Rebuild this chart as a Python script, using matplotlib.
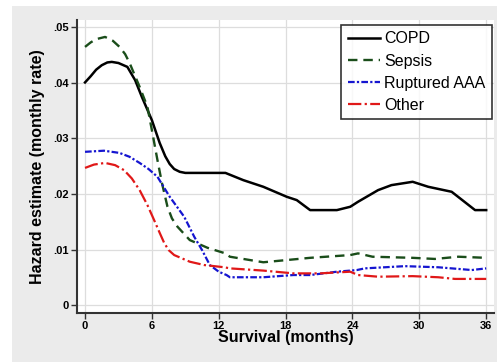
import matplotlib
matplotlib.use("Agg")
import matplotlib.pyplot as plt
from matplotlib.patches import Rectangle

# Data (months, monthly hazard rate)
copd_t = [0, 0.5, 1.0, 1.5, 2.0, 2.4, 3.0, 3.8, 4.5, 5.1, 6.0, 6.7, 7.2, 7.6, 8.0, 8.5, 9.0, 12.6, 14.2, 16.0, 18.1, 19.0, 20.2, 22.6, 23.8, 24.5, 26.3, 27.5, 29.4, 30.8, 32.9, 35.0, 36.0]
copd_v = [0.0401, 0.0412, 0.0424, 0.0432, 0.0437, 0.0438, 0.0436, 0.0429, 0.0405, 0.0375, 0.0333, 0.0292, 0.0268, 0.0254, 0.0245, 0.0240, 0.0238, 0.0238, 0.0225, 0.0213, 0.0195, 0.0189, 0.0171, 0.0171, 0.0177, 0.0186, 0.0207, 0.0216, 0.0222, 0.0213, 0.0204, 0.0171, 0.0171]

sepsis_t = [0, 0.5, 1.0, 1.8, 2.5, 3.1, 3.6, 4.0, 4.9, 5.6, 6.0, 6.5, 6.9, 7.4, 7.8, 8.3, 9.4, 11.0, 12.6, 13.0, 16.0, 18.1, 20.2, 23.8, 24.5, 25.8, 29.4, 31.4, 33.5, 36.0]
sepsis_v = [0.0465, 0.0473, 0.0479, 0.0483, 0.0476, 0.0465, 0.0452, 0.0436, 0.0393, 0.0357, 0.0315, 0.0261, 0.0220, 0.0177, 0.0156, 0.0141, 0.0117, 0.0103, 0.0093, 0.0087, 0.0077, 0.0081, 0.0085, 0.0090, 0.0093, 0.0087, 0.0085, 0.0083, 0.0087, 0.0085]

aaa_t = [0, 1.7, 3.1, 4.0, 4.9, 5.7, 6.5, 7.6, 8.9, 9.8, 10.5, 11.2, 12.0, 12.7, 13.0, 16.0, 18.7, 20.2, 22.6, 24.4, 25.1, 28.7, 31.7, 34.7, 36.0]
aaa_v = [0.0276, 0.0278, 0.0274, 0.0267, 0.0256, 0.0245, 0.0231, 0.0195, 0.0159, 0.0123, 0.0099, 0.0072, 0.0060, 0.0054, 0.0050, 0.0050, 0.0054, 0.0054, 0.0060, 0.0063, 0.0066, 0.0070, 0.0068, 0.0063, 0.0066]

other_t = [0, 0.8, 1.8, 2.7, 3.5, 4.2, 4.9, 5.6, 6.2, 6.7, 7.1, 7.5, 8.0, 9.4, 10.7, 12.5, 13.0, 16.0, 18.7, 21.1, 23.8, 24.5, 26.3, 29.4, 31.7, 33.2, 36.0]
other_v = [0.0247, 0.0253, 0.0256, 0.0252, 0.0243, 0.0228, 0.0207, 0.0180, 0.0153, 0.0130, 0.0112, 0.0099, 0.0090, 0.0078, 0.0072, 0.0068, 0.0066, 0.0062, 0.0057, 0.0057, 0.0060, 0.0054, 0.0051, 0.0052, 0.0050, 0.0047, 0.0047]

series_names = ["COPD", "Sepsis", "Ruptured AAA", "Other"]
x_ticks = [0, 6, 12, 18, 24, 30, 36]
y_ticks = [0, 0.01, 0.02, 0.03, 0.04, 0.05]
y_tick_labels = ["0", ".01", ".02", ".03", ".04", ".05"]

plt.rcParams['font.family'] = ['Liberation Sans', 'DejaVu Sans']

fig = plt.figure(figsize=(4.97, 3.62), dpi=100)
fig.patch.set_facecolor("white")
fig.patches.append(Rectangle((12/497, 0), 1 - 12/497, 1 - 6/362, transform=fig.transFigure,
                             facecolor="#ebebeb", edgecolor="none", zorder=-10))

ax = fig.add_axes([77/497, 1 - 313/362, (494 - 77)/497, (313 - 20)/362])
ax.set_facecolor("white")

ax.plot(copd_t, copd_v, color="black", lw=1.8, ls="-", label=series_names[0])
ax.plot(sepsis_t, sepsis_v, color="#1a4d1a", lw=1.7, ls=(0, (4, 2.5)), label=series_names[1])
ax.plot(aaa_t, aaa_v, color="#1515d0", lw=1.6, ls=(0, (3, 1, 1, 1)), label=series_names[2])
ax.plot(other_t, other_v, color="#e01818", lw=1.6, ls=(0, (6, 1.5, 1, 1.5)), label=series_names[3])

ax.set_xlim(-0.72, 36.7)
ax.set_ylim(-0.00144, 0.05135)
ax.set_xticks(x_ticks)
ax.set_xticklabels([str(v) for v in x_ticks], fontsize=8, fontweight="bold")
ax.set_yticks(y_ticks)
ax.set_yticklabels(y_tick_labels, fontsize=8, fontweight="bold")
ax.grid(True, color="#dddddd", lw=0.9)
ax.set_axisbelow(True)

for s in ["top", "right"]:
    ax.spines[s].set_visible(False)
for s in ["left", "bottom"]:
    ax.spines[s].set_color("#333333")
    ax.spines[s].set_linewidth(1.5)
ax.tick_params(direction="out", length=4, width=1, color="#333333", pad=2)

ax.set_xlabel("Survival (months)", fontsize=11.5, fontweight="bold", labelpad=-1)
ax.set_ylabel("Hazard estimate (monthly rate)", fontsize=11.5, fontweight="bold", labelpad=6)

leg = ax.legend(loc="upper right", bbox_to_anchor=(1.0 - 2/417, 1.0 - 5/293), fontsize=11.5,
                frameon=True, fancybox=False, handlelength=2.0, handletextpad=0.3,
                borderpad=0.4, labelspacing=0.45, borderaxespad=0)
leg.get_frame().set_edgecolor("black")
leg.get_frame().set_linewidth(1.2)

fig.savefig("out.png", dpi=100)
